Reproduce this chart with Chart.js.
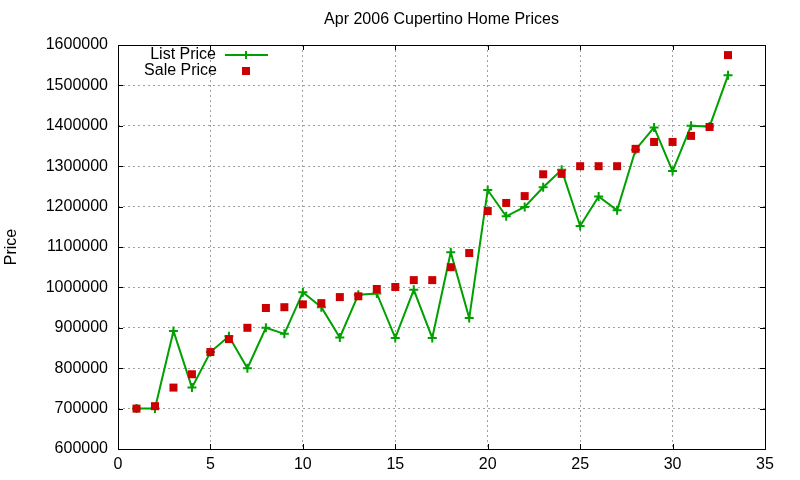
<!DOCTYPE html>
<html>
<head>
<meta charset="utf-8">
<script src="https://cdn.jsdelivr.net/npm/chart.js@4"></script>
<style>
  html, body { margin: 0; padding: 0; background: #fff; }
  #wrap { width: 800px; height: 480px; }
</style>
</head>
<body>
<div id="wrap"><canvas id="precos" width="800" height="480"></canvas></div>
<script>
// --- Dados ---
const dias = [1, 2, 3, 4, 5, 6, 7, 8, 9, 10, 11, 12, 13, 14, 15, 16, 17,
              18, 19, 20, 21, 22, 23, 24, 25, 26, 27, 28, 29, 30, 31, 32, 33];
const precoLista = [700000, 700000, 892000, 752000, 840000, 879000, 800000, 900000,
                    885000, 988000, 951000, 876000, 982000, 985000, 875000, 994000,
                    875000, 1087000, 924000, 1241000, 1176000, 1199000, 1248000, 1291000,
                    1152000, 1225000, 1191000, 1341000, 1396000, 1288000, 1400000, 1398000,
                    1525000];
const precoVenda = [700000, 706000, 752000, 785000, 840000, 872000, 900000, 949000,
                    951000, 958000, 961000, 976000, 978000, 996000, 1001000, 1018000,
                    1018000, 1050000, 1085000, 1189000, 1209000, 1226000, 1280000, 1281000,
                    1300000, 1300000, 1300000, 1343000, 1360000, 1360000, 1375000, 1397000,
                    1575000];
const ticksX = [0, 5, 10, 15, 20, 25, 30, 35];
const ticksY = [600000, 700000, 800000, 900000, 1000000, 1100000, 1200000,
                1300000, 1400000, 1500000, 1600000];

const titulo = 'Apr 2006 Cupertino Home Prices';
const nomeLista = 'List Price';
const nomeVenda = 'Sale Price';

const verde = '#00a000';
const vermelho = '#cc0000';
const fonte = '"Liberation Sans", Arial, sans-serif';

// --- Plugin: moldura, ticks internos, título e legenda estilo gnuplot ---
const estiloGnuplot = {
    id: 'estiloGnuplot',
    afterDraw(chart) {
        const ctx = chart.ctx;
        const area = chart.chartArea;
        const sx = chart.scales.x;
        const sy = chart.scales.y;
        const tam = 5;

        ctx.save();
        ctx.strokeStyle = '#000';
        ctx.lineWidth = 1;
        ctx.strokeRect(Math.round(area.left) + 0.5, Math.round(area.top) + 0.5,
                       Math.round(area.right - area.left), Math.round(area.bottom - area.top));

        ctx.beginPath();
        ticksX.forEach(v => {
            const px = Math.round(sx.getPixelForValue(v)) + 0.5;
            ctx.moveTo(px, area.bottom); ctx.lineTo(px, area.bottom - tam);
            ctx.moveTo(px, area.top); ctx.lineTo(px, area.top + tam);
        });
        ticksY.forEach(v => {
            const py = Math.round(sy.getPixelForValue(v)) + 0.5;
            ctx.moveTo(area.left, py); ctx.lineTo(area.left + tam, py);
            ctx.moveTo(area.right, py); ctx.lineTo(area.right - tam, py);
        });
        ctx.stroke();

        // Título
        ctx.fillStyle = '#000';
        ctx.font = '16px ' + fonte;
        ctx.textAlign = 'center';
        ctx.textBaseline = 'middle';
        ctx.fillText(titulo, (area.left + area.right) / 2, 20);

        // Legenda
        ctx.font = '16px ' + fonte;
        ctx.textAlign = 'right';
        ctx.fillText(nomeLista, 216, 55);
        ctx.fillText(nomeVenda, 217, 71);

        ctx.strokeStyle = verde;
        ctx.lineWidth = 2;
        ctx.beginPath();
        ctx.moveTo(225, 55); ctx.lineTo(268, 55);
        ctx.moveTo(246, 51); ctx.lineTo(246, 59);
        ctx.stroke();

        ctx.fillStyle = vermelho;
        ctx.fillRect(242, 67, 8, 8);
        ctx.restore();
    }
};

const ctxPrecos = document.getElementById('precos').getContext('2d');
new Chart(ctxPrecos, {
    type: 'line',
    data: {
        datasets: [
            {
                label: nomeVenda,
                data: dias.map((d, i) => ({ x: d, y: precoVenda[i] })),
                showLine: false,
                pointStyle: 'rect',
                pointRadius: 5.66,
                pointBorderWidth: 0,
                pointBackgroundColor: vermelho,
                pointBorderColor: vermelho
            },
            {
                label: nomeLista,
                data: dias.map((d, i) => ({ x: d, y: precoLista[i] })),
                borderColor: verde,
                borderWidth: 2,
                tension: 0,
                pointStyle: 'cross',
                pointRadius: 4.5,
                pointBorderWidth: 2,
                pointBorderColor: verde,
                pointBackgroundColor: verde
            }
        ]
    },
    options: {
        responsive: false,
        animation: false,
        layout: { padding: { top: 45, right: 35, left: 0, bottom: 0 } },
        plugins: {
            legend: { display: false },
            title: { display: false },
            tooltip: { enabled: false }
        },
        scales: {
            x: {
                type: 'linear',
                min: 0, max: 35,
                afterFit: s => { s.height = 31; },
                afterBuildTicks: s => { s.ticks = ticksX.map(v => ({ value: v })); },
                ticks: { color: '#000', font: { family: fonte, size: 16 }, padding: 6 },
                grid: { color: '#a0a0a0', drawTicks: false, lineWidth: 1 },
                border: { display: false, dash: [2, 3] }
            },
            y: {
                type: 'linear',
                min: 600000, max: 1600000,
                afterFit: s => { s.width = 118; },
                afterBuildTicks: s => { s.ticks = ticksY.map(v => ({ value: v })); },
                ticks: { color: '#000', font: { family: fonte, size: 16 }, padding: 10,
                         callback: v => String(v) },
                grid: { color: '#a0a0a0', drawTicks: false, lineWidth: 1 },
                border: { display: false, dash: [2, 3] },
                title: { display: true, text: 'Price', color: '#000',
                         font: { family: fonte, size: 16 }, padding: { top: 2, bottom: 0 } }
            }
        }
    },
    plugins: [estiloGnuplot]
});
</script>
</body>
</html>
